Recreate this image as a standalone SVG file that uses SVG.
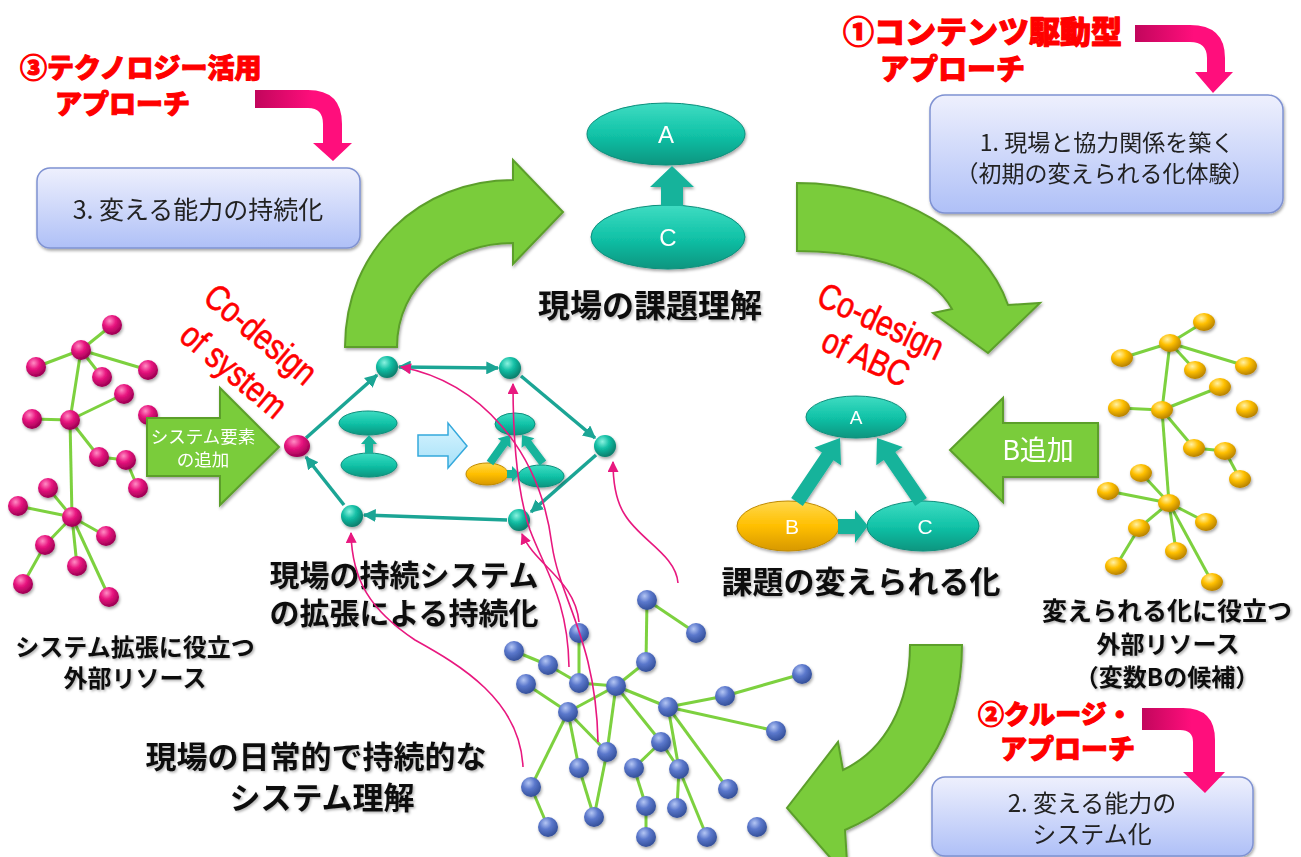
<svg xmlns="http://www.w3.org/2000/svg" width="1301" height="857" viewBox="0 0 1301 857">
<defs>
<style>
.net{stroke:#7dd13f;stroke-width:3;fill:none}
.hex{stroke:#1ba595;stroke-width:3.5;fill:none}
.link{stroke:#e8187f;stroke-width:1.6;fill:none}
.lbl{font-family:"Noto Sans CJK JP","Noto Sans CJK SC",sans-serif;font-weight:bold;fill:#111;text-anchor:middle}
.red{font-family:"Noto Sans CJK JP","Noto Sans CJK SC",sans-serif;font-weight:900;fill:#ff0000;stroke:#ff0000;stroke-width:1.1;stroke-linejoin:round}
.box{fill:url(#boxg);stroke:#7f92d2;stroke-width:1.5}
.boxt{font-family:"Noto Sans CJK JP","Noto Sans CJK SC",sans-serif;fill:#222;text-anchor:middle}
.cod{font-family:"Liberation Sans",Arial,sans-serif;fill:#ff0000;stroke:#ff0000;stroke-width:0.6;text-anchor:middle;dominant-baseline:central}
.green{fill:#7acc3a;stroke:#5c9f2c;stroke-width:2}
.pinkb{fill:url(#pinkg)}
.teal{fill:url(#tealE);stroke:#0d8f7c;stroke-width:1}
.gold{fill:url(#goldE);stroke:#c08a00;stroke-width:1}
.tarr{fill:#14b39b}
.wt{font-family:"Liberation Sans",Arial,sans-serif;fill:#fff;text-anchor:middle}
.wj{font-family:"Noto Sans CJK JP","Noto Sans CJK SC",sans-serif;fill:#fff;text-anchor:middle}
.pn{fill:url(#pinkN)}
.gn{fill:url(#goldN)}
.bn{fill:url(#blueN)}
.tn{fill:url(#tealN)}
</style>
<linearGradient id="boxg" x1="0" y1="0" x2="0" y2="1"><stop offset="0" stop-color="#eef0fd"/><stop offset="1" stop-color="#afc0f7"/></linearGradient>
<linearGradient id="pinkg" x1="0" y1="0" x2="1" y2="0"><stop offset="0" stop-color="#c2065c"/><stop offset="0.6" stop-color="#ff0e7c"/><stop offset="1" stop-color="#ff0e7c"/></linearGradient>
<linearGradient id="tealE" x1="0" y1="0" x2="0" y2="1"><stop offset="0" stop-color="#3fdcc2"/><stop offset="0.5" stop-color="#12c3a8"/><stop offset="1" stop-color="#0a957f"/></linearGradient>
<linearGradient id="goldE" x1="0" y1="0" x2="0" y2="1"><stop offset="0" stop-color="#ffd84d"/><stop offset="0.5" stop-color="#ffbf00"/><stop offset="1" stop-color="#d79800"/></linearGradient>
<linearGradient id="lblue" x1="0" y1="0" x2="0" y2="1"><stop offset="0" stop-color="#d8f5ff"/><stop offset="1" stop-color="#a6e0f8"/></linearGradient>
<radialGradient id="pinkN" cx="0.38" cy="0.3" r="0.7"><stop offset="0" stop-color="#ff8cc4"/><stop offset="0.45" stop-color="#e8147f"/><stop offset="1" stop-color="#9c0052"/></radialGradient>
<radialGradient id="goldN" cx="0.38" cy="0.3" r="0.7"><stop offset="0" stop-color="#fff1a6"/><stop offset="0.45" stop-color="#ffc000"/><stop offset="1" stop-color="#b88200"/></radialGradient>
<radialGradient id="blueN" cx="0.38" cy="0.3" r="0.7"><stop offset="0" stop-color="#b4c6f4"/><stop offset="0.45" stop-color="#5b78cc"/><stop offset="1" stop-color="#34509a"/></radialGradient>
<radialGradient id="tealN" cx="0.38" cy="0.3" r="0.7"><stop offset="0" stop-color="#8af2e0"/><stop offset="0.45" stop-color="#13bfa5"/><stop offset="1" stop-color="#087e6c"/></radialGradient>
<filter id="sh" x="-20%" y="-20%" width="140%" height="150%"><feDropShadow dx="1" dy="2" stdDeviation="1.5" flood-color="#000" flood-opacity="0.35"/></filter>
<filter id="tsh" x="-5%" y="-10%" width="110%" height="130%"><feDropShadow dx="1.5" dy="1.5" stdDeviation="0.8" flood-color="#000" flood-opacity="0.3"/></filter>
<marker id="ha" viewBox="0 0 10 10" refX="9" refY="5" markerWidth="13" markerHeight="13" markerUnits="userSpaceOnUse" orient="auto-start-reverse"><path d="M0,0 L10,5 L0,10 z" fill="#1ba595"/></marker>
<marker id="pa" viewBox="0 0 10 10" refX="9" refY="5" markerWidth="11" markerHeight="11" markerUnits="userSpaceOnUse" orient="auto"><path d="M0,0 L10,5 L0,10 z" fill="#e8187f"/></marker>
</defs>
<rect width="1301" height="857" fill="#fff"/>

<!-- big green curved arrows -->
<g id="cycle-arrows" filter="url(#sh)">
<path class="green" d="M345,347 C345,250 420,180 513,180 L513,160 L563,212 L513,264 L513,243 C450,243 397,285 397,347 Z"/>
<path class="green" d="M797,183 C900,183 985,238 1008,305 L1040,303 L988,353 L933,313 L952,309 C932,272 872,251 797,251 Z"/>
<path class="green" d="M962,645 C962,735 915,800 845,830 L848,878 L787,808 L838,742 L843,770 C885,750 910,705 910,645 Z"/>
</g>

<!-- boxes -->
<g id="box3" filter="url(#sh)">
<rect class="box" x="37" y="168" width="323" height="80" rx="13"/>
<text class="boxt" x="198" y="219" font-size="25">3. 変える能力の持続化</text>
</g>
<g id="box1" filter="url(#sh)">
<rect class="box" x="930" y="95" width="353" height="118" rx="15"/>
<text class="boxt" x="1107" y="151" font-size="23">1. 現場と協力関係を築く</text>
<text class="boxt" x="1105" y="182" font-size="23">（初期の変えられる化体験）</text>
</g>
<g id="box2" filter="url(#sh)">
<rect class="box" x="932" y="777" width="321" height="79" rx="13"/>
<text class="boxt" x="1092" y="812" font-size="24">2. 変える能力の</text>
<text class="boxt" x="1092" y="843" font-size="24">システム化</text>
</g>

<!-- approach labels -->
<g id="approach3">
<text class="red" x="20" y="78" font-size="27">③テクノロジー活用</text>
<text class="red" x="55" y="114" font-size="27">アプローチ</text>
<path class="pinkb" d="M255,90 H308 Q342,90 342,124 V143 H352 L333,161 L313,143 H323 V124 Q323,108 308,108 H255 Z"/>
</g>
<g id="approach1">
<text class="red" x="843" y="43" font-size="31">①コンテンツ駆動型</text>
<text class="red" x="880" y="80" font-size="29">アプローチ</text>
<path class="pinkb" d="M1135,25 H1190 Q1225,25 1225,58 V72 H1233 L1213,93 L1195,72 H1207 V58 Q1207,42 1190,42 H1135 Z"/>
</g>
<g id="approach2">
<text class="red" x="978" y="724" font-size="26">②クルージ・</text>
<text class="red" x="1000" y="759" font-size="27">アプローチ</text>
<path class="pinkb" d="M1142,708 H1183 Q1215,708 1215,740 V772 H1225 L1205,793 L1183,772 H1193 V742 Q1193,730 1180,730 H1142 Z"/>
</g>

<!-- Co-design labels -->
<g id="codesign-system">
<text class="cod" font-size="36" transform="translate(261,334) rotate(40) scale(0.82,1)">Co-design</text>
<text class="cod" font-size="36" transform="translate(234,370) rotate(40) scale(0.82,1)">of system</text>
</g>
<g id="codesign-abc">
<text class="cod" font-size="36" transform="translate(881,321) rotate(25) scale(0.82,1)">Co-design</text>
<text class="cod" font-size="36" transform="translate(866,357) rotate(25) scale(0.82,1)">of ABC</text>
</g>

<!-- black labels -->
<g id="labels" filter="url(#tsh)">
<text class="lbl" x="650" y="317" font-size="32">現場の課題理解</text>
<text class="lbl" x="861" y="593" font-size="31">課題の変えられる化</text>
<text class="lbl" x="404" y="586" font-size="30">現場の持続システム</text>
<text class="lbl" x="404" y="624" font-size="30">の拡張による持続化</text>
<text class="lbl" x="316" y="768" font-size="31">現場の日常的で持続的な</text>
<text class="lbl" x="322" y="809" font-size="31">システム理解</text>
<text class="lbl" x="135" y="656" font-size="24">システム拡張に役立つ</text>
<text class="lbl" x="135" y="687" font-size="24">外部リソース</text>
<text class="lbl" x="1167" y="620" font-size="25">変えられる化に役立つ</text>
<text class="lbl" x="1168" y="653" font-size="24">外部リソース</text>
<text class="lbl" x="1167" y="686" font-size="24">（変数Bの候補）</text>
</g>

<!-- connectors -->
<g id="connectors">
<!-- left pink network -->
<g class="net">
<line x1="81" y1="350" x2="112" y2="325"/><line x1="81" y1="350" x2="36" y2="367"/><line x1="81" y1="350" x2="102" y2="377"/><line x1="81" y1="350" x2="148" y2="370"/><line x1="81" y1="350" x2="70" y2="420"/>
<line x1="70" y1="420" x2="32" y2="419"/><line x1="70" y1="420" x2="124" y2="394"/><line x1="70" y1="420" x2="99" y2="457"/><line x1="70" y1="420" x2="72" y2="517"/>
<line x1="99" y1="457" x2="126" y2="460"/><line x1="126" y1="460" x2="138" y2="488"/>
<line x1="72" y1="517" x2="48" y2="488"/><line x1="72" y1="517" x2="18" y2="506"/><line x1="72" y1="517" x2="106" y2="536"/><line x1="72" y1="517" x2="45" y2="545"/><line x1="72" y1="517" x2="77" y2="566"/><line x1="72" y1="517" x2="109" y2="597"/><line x1="45" y1="545" x2="23" y2="584"/>
</g>
<!-- right gold network -->
<g class="net">
<line x1="1170" y1="343" x2="1204" y2="322"/><line x1="1170" y1="343" x2="1122" y2="358"/><line x1="1170" y1="343" x2="1195" y2="370"/><line x1="1170" y1="343" x2="1246" y2="366"/><line x1="1170" y1="343" x2="1162" y2="410"/>
<line x1="1162" y1="410" x2="1119" y2="408"/><line x1="1162" y1="410" x2="1220" y2="387"/><line x1="1162" y1="410" x2="1194" y2="448"/><line x1="1162" y1="410" x2="1169" y2="503"/>
<line x1="1194" y1="448" x2="1225" y2="451"/><line x1="1225" y1="451" x2="1240" y2="479"/>
<line x1="1169" y1="503" x2="1141" y2="473"/><line x1="1169" y1="503" x2="1108" y2="491"/><line x1="1169" y1="503" x2="1206" y2="522"/><line x1="1169" y1="503" x2="1139" y2="528"/><line x1="1169" y1="503" x2="1176" y2="551"/><line x1="1169" y1="503" x2="1212" y2="582"/><line x1="1139" y1="528" x2="1116" y2="566"/>
</g>
<!-- bottom blue network -->
<g class="net">
<line x1="647" y1="600" x2="696" y2="633"/><line x1="647" y1="600" x2="646" y2="662"/><line x1="646" y1="662" x2="616" y2="686"/>
<line x1="579" y1="633" x2="579" y2="683"/><line x1="514" y1="651" x2="548" y2="665"/><line x1="548" y1="665" x2="579" y2="683"/><line x1="579" y1="683" x2="616" y2="686"/>
<line x1="526" y1="684" x2="568" y2="712"/><line x1="616" y1="686" x2="568" y2="712"/>
<line x1="568" y1="712" x2="531" y2="787"/><line x1="568" y1="712" x2="579" y2="768"/><line x1="568" y1="712" x2="607" y2="752"/>
<line x1="616" y1="686" x2="607" y2="752"/><line x1="607" y1="752" x2="594" y2="817"/><line x1="579" y1="768" x2="594" y2="817"/>
<line x1="616" y1="686" x2="661" y2="742"/><line x1="616" y1="686" x2="668" y2="707"/>
<line x1="668" y1="707" x2="725" y2="696"/><line x1="725" y1="696" x2="802" y2="674"/><line x1="668" y1="707" x2="776" y2="731"/>
<line x1="668" y1="707" x2="679" y2="769"/><line x1="668" y1="707" x2="728" y2="789"/>
<line x1="661" y1="742" x2="634" y2="768"/><line x1="661" y1="742" x2="679" y2="769"/>
<line x1="634" y1="768" x2="646" y2="806"/><line x1="646" y1="806" x2="646" y2="837"/>
<line x1="679" y1="769" x2="677" y2="808"/><line x1="679" y1="769" x2="707" y2="837"/>
<line x1="531" y1="787" x2="548" y2="827"/>
</g>
<!-- hexagon system -->
<g class="hex">
<line x1="306" y1="438" x2="377" y2="375" marker-end="url(#ha)"/>
<line x1="399" y1="367" x2="498" y2="368" marker-start="url(#ha)" marker-end="url(#ha)"/>
<line x1="521" y1="376" x2="595" y2="438" marker-end="url(#ha)"/>
<line x1="596" y1="455" x2="531" y2="512" marker-end="url(#ha)"/>
<line x1="507" y1="520" x2="364" y2="515" marker-end="url(#ha)"/>
<line x1="344" y1="505" x2="306" y2="457" marker-end="url(#ha)"/>
</g>
</g>

<!-- nodes: left pink network -->
<g id="pink-network" filter="url(#sh)">
<circle class="pn" cx="112" cy="325" r="10"/><circle class="pn" cx="81" cy="350" r="10"/><circle class="pn" cx="36" cy="367" r="10"/><circle class="pn" cx="102" cy="377" r="10"/><circle class="pn" cx="148" cy="370" r="10"/>
<circle class="pn" cx="124" cy="394" r="10"/><circle class="pn" cx="32" cy="419" r="10"/><circle class="pn" cx="70" cy="420" r="10"/><circle class="pn" cx="148" cy="415" r="10"/><circle class="pn" cx="99" cy="457" r="10"/>
<circle class="pn" cx="126" cy="460" r="10"/><circle class="pn" cx="138" cy="488" r="10"/><circle class="pn" cx="48" cy="488" r="10"/><circle class="pn" cx="18" cy="506" r="10"/><circle class="pn" cx="72" cy="517" r="10"/>
<circle class="pn" cx="106" cy="536" r="10"/><circle class="pn" cx="45" cy="545" r="10"/><circle class="pn" cx="77" cy="566" r="10"/><circle class="pn" cx="23" cy="584" r="10"/><circle class="pn" cx="109" cy="597" r="10"/>
</g>
<g id="gold-network" filter="url(#sh)">
<ellipse class="gn" cx="1204" cy="322" rx="11" ry="9"/><ellipse class="gn" cx="1170" cy="343" rx="11" ry="9"/><ellipse class="gn" cx="1122" cy="358" rx="11" ry="9"/><ellipse class="gn" cx="1195" cy="370" rx="11" ry="9"/><ellipse class="gn" cx="1246" cy="366" rx="11" ry="9"/>
<ellipse class="gn" cx="1220" cy="387" rx="11" ry="9"/><ellipse class="gn" cx="1119" cy="408" rx="11" ry="9"/><ellipse class="gn" cx="1162" cy="410" rx="11" ry="9"/><ellipse class="gn" cx="1247" cy="409" rx="11" ry="9"/><ellipse class="gn" cx="1194" cy="448" rx="11" ry="9"/>
<ellipse class="gn" cx="1225" cy="451" rx="11" ry="9"/><ellipse class="gn" cx="1240" cy="479" rx="11" ry="9"/><ellipse class="gn" cx="1141" cy="473" rx="11" ry="9"/><ellipse class="gn" cx="1108" cy="491" rx="11" ry="9"/><ellipse class="gn" cx="1169" cy="503" rx="11" ry="9"/>
<ellipse class="gn" cx="1206" cy="522" rx="11" ry="9"/><ellipse class="gn" cx="1139" cy="528" rx="11" ry="9"/><ellipse class="gn" cx="1176" cy="551" rx="11" ry="9"/><ellipse class="gn" cx="1116" cy="566" rx="11" ry="9"/><ellipse class="gn" cx="1212" cy="582" rx="11" ry="9"/>
</g>
<g id="blue-network" filter="url(#sh)">
<circle class="bn" cx="647" cy="600" r="10"/><circle class="bn" cx="696" cy="633" r="10"/><circle class="bn" cx="579" cy="633" r="10"/><circle class="bn" cx="514" cy="651" r="10"/><circle class="bn" cx="548" cy="665" r="10"/>
<circle class="bn" cx="646" cy="662" r="10"/><circle class="bn" cx="526" cy="684" r="10"/><circle class="bn" cx="579" cy="683" r="10"/><circle class="bn" cx="616" cy="686" r="10"/><circle class="bn" cx="802" cy="674" r="10"/>
<circle class="bn" cx="725" cy="696" r="10"/><circle class="bn" cx="568" cy="712" r="10"/><circle class="bn" cx="668" cy="707" r="10"/><circle class="bn" cx="776" cy="731" r="10"/><circle class="bn" cx="661" cy="742" r="10"/>
<circle class="bn" cx="607" cy="752" r="10"/><circle class="bn" cx="579" cy="768" r="10"/><circle class="bn" cx="634" cy="768" r="10"/><circle class="bn" cx="679" cy="769" r="10"/><circle class="bn" cx="531" cy="787" r="10"/>
<circle class="bn" cx="728" cy="789" r="10"/><circle class="bn" cx="646" cy="806" r="10"/><circle class="bn" cx="677" cy="808" r="10"/><circle class="bn" cx="594" cy="817" r="10"/><circle class="bn" cx="548" cy="827" r="10"/>
<circle class="bn" cx="646" cy="837" r="10"/><circle class="bn" cx="707" cy="837" r="10"/><circle class="bn" cx="757" cy="827" r="10"/>
</g>

<!-- straight green arrows -->
<g id="add-system-element" filter="url(#sh)">
<path class="green" d="M147,418 H220 V388 L279,447 L220,505 V476 H147 Z"/>
<text class="wj" x="203" y="443" font-size="17.5">システム要素</text>
<text class="wj" x="203" y="466" font-size="17.5">の追加</text>
</g>
<g id="add-b" filter="url(#sh)">
<path class="green" d="M1098,423 H1003 V398 L950,450 L1003,502 V477 H1098 Z"/>
<text class="wj" x="1038" y="460" font-size="27">B追加</text>
</g>

<!-- hexagon nodes -->
<g id="hex-nodes" filter="url(#sh)">
<ellipse class="pn" cx="297" cy="446" rx="13" ry="11"/>
<circle class="tn" cx="387" cy="367" r="11"/>
<circle class="tn" cx="510" cy="368" r="11"/>
<circle class="tn" cx="605" cy="446" r="11"/>
<circle class="tn" cx="519" cy="520" r="11"/>
<circle class="tn" cx="352" cy="516" r="11"/>
</g>
<g id="hex-before" filter="url(#sh)">
<ellipse class="teal" cx="368" cy="423" rx="29" ry="12"/>
<ellipse class="teal" cx="369" cy="465" rx="28" ry="12"/>
<path class="tarr" d="M365,453 V444 H361 L369,435 L377,444 H373 V453 Z"/>
</g>
<g id="hex-transition">
<path d="M418,435 H448 V423 L467,446 L448,468 V456 H418 Z" fill="url(#lblue)" stroke="#35a9dc" stroke-width="1.5"/>
</g>
<g id="hex-after" filter="url(#sh)">
<ellipse class="teal" cx="515" cy="424" rx="20" ry="11"/>
<ellipse class="gold" cx="487" cy="474" rx="21" ry="11"/>
<ellipse class="teal" cx="541" cy="476" rx="23" ry="11"/>
<path class="tarr" d="M493.3,465.3 L507.5,445.4 L510.7,447.7 L510,435 L497.7,438.5 L500.9,440.8 L486.7,460.7 Z"/>
<path class="tarr" d="M546.2,460.6 L531.2,440.6 L534.4,438.2 L522,435 L521.6,447.8 L524.8,445.4 L539.8,465.4 Z"/>
<path class="tarr" d="M507,470 H512 V466 L520,474 L512,482 V478 H507 Z"/>
</g>

<!-- top A/C -->
<g id="understand-AC" filter="url(#sh)">
<ellipse class="teal" cx="666" cy="134" rx="79" ry="31"/>
<ellipse class="teal" cx="668" cy="237" rx="77" ry="32"/>
<path class="tarr" d="M661,206 V187 H650 L672,166 L694,187 H683 V206 Z"/>
<text class="wt" x="666" y="143" font-size="24">A</text>
<text class="wt" x="668" y="246" font-size="24">C</text>
</g>

<!-- right ABC -->
<g id="changeable-ABC" filter="url(#sh)">
<ellipse class="teal" cx="856" cy="417" rx="50" ry="21"/>
<ellipse class="gold" cx="788" cy="526" rx="51" ry="25"/>
<ellipse class="teal" cx="923" cy="526" rx="56" ry="25"/>
<path class="tarr" d="M802.8,505.9 L833.5,460.2 L841,465.2 L840,438 L814.4,447.4 L821.9,452.4 L791.2,498.1 Z"/>
<path class="tarr" d="M926.8,498 L895.3,452.1 L902.7,447 L877,438 L876.3,465.2 L883.7,460.1 L915.2,506 Z"/>
<path class="tarr" d="M838,519 H855 V510 L868,526 L855,543 V534 H838 Z"/>
<text class="wt" x="856" y="424" font-size="19">A</text>
<text class="wt" x="792" y="534" font-size="21">B</text>
<text class="wt" x="925" y="534" font-size="21">C</text>
</g>

<!-- pink links from the everyday system to the sustaining system -->
<g id="connectors-links" class="link">
<path d="M598,742 C596,640 560,600 552,545 C540,450 480,382 401,367" marker-end="url(#pa)"/>
<path d="M569,667 C568,600 545,570 530,530 C518,495 513,440 513,384" marker-end="url(#pa)"/>
<path d="M579,622 C575,580 535,565 522,534" marker-end="url(#pa)"/>
<path d="M523,767 C520,700 460,665 415,640 C370,610 352,580 351,533" marker-end="url(#pa)"/>
<path d="M678,583 C676,555 640,540 625,515 C615,500 613,480 613,462" marker-end="url(#pa)"/>
</g>
</svg>
